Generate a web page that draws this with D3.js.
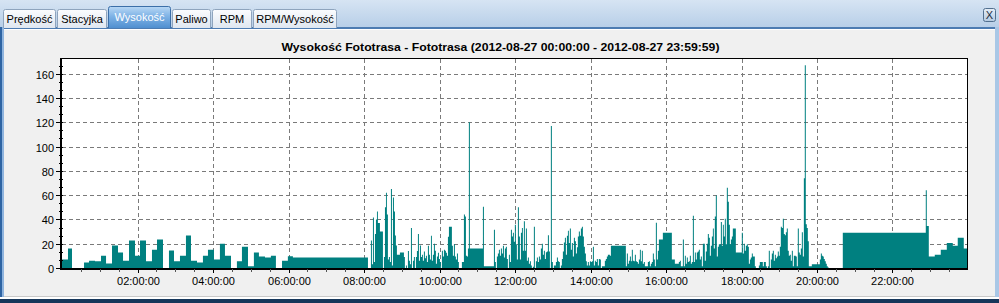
<!DOCTYPE html>
<html><head><meta charset="utf-8">
<script src="https://cdn.jsdelivr.net/npm/d3@7"></script>
<style>html,body{margin:0;padding:0;background:#f0f0f0;overflow:hidden}svg{display:block}</style>
</head><body><svg id="c" width="999" height="303"></svg>
<script>
const tabs = ["Prędkość","Stacyjka","Wysokość","Paliwo","RPM","RPM/Wysokość"];
const activeTab = "Wysokość";
const chartTitle = "Wysokość Fototrasa - Fototrasa (2012-08-27 00:00:00 - 2012-08-27 23:59:59)";
// minutes since midnight (start of each step)
const times = [0,9.5,15.9,35,43,52.5,62,70,79.5,89,97,106.5,116,124,133.5,143,151,160.5,170,178,187.5,197,205,214.6,224,232,241.6,251,259,268.6,278,286,295.6,305,313,322.6,332,340,349.7,359,367,486.3,
491.0,492.6,494.2,495.8,497.4,499.0,500.6,502.1,505.3,510.1,511.7,513.3,514.9,516.4,518.0,519.6,521.2,522.8,524.4,526.0,527.6,529.2,530.7,532.3,537.1,543.5,545.0,546.6,548.2,549.8,551.4,553.0,554.6,556.2,557.8,559.3,560.9,562.5,564.1,565.7,567.3,568.9,570.5,572.1,573.6,575.2,576.8,578.4,580.0,581.6,583.2,584.8,586.4,587.9,589.5,591.1,592.7,594.3,595.9,597.5,599.1,600.7,602.2,603.8,605.4,607.0,608.6,610.2,611.8,613.4,615.0,619.7,621.3,622.9,624.5,626.1,627.7,629.3,630.8,635.6,638.8,640.4,642.0,643.6,645.2,646.7,648.3,669.0,670.6,686.5,688.1,689.6,691.2,692.8,694.4,696.0,697.6,699.2,700.8,702.4,703.9,705.5,707.1,708.7,710.3,711.9,713.5,715.1,716.7,718.2,719.8,721.4,723.0,724.6,726.2,727.8,729.4,731.0,732.5,734.1,735.7,737.3,738.9,740.5,742.1,743.7,745.3,746.8,748.4,750.0,751.6,753.2,754.8,756.4,758.0,759.6,761.1,762.7,764.3,765.9,767.5,769.1,770.7,772.3,773.9,775.5,777.0,778.6,780.2,781.8,785.0,786.6,788.2,789.8,791.3,792.9,794.5,796.1,797.7,799.3,800.9,802.5,804.1,805.6,807.2,808.8,810.4,812.0,813.6,815.2,816.8,818.4,819.9,821.5,823.1,824.7,826.3,827.9,829.5,831.1,832.7,834.2,835.8,837.4,839.0,840.6,842.2,843.8,845.4,847.0,848.5,850.1,851.7,853.3,854.9,856.5,858.1,862.8,864.4,866.0,867.6,870.8,872.4,896.2,897.8,899.4,901.0,902.6,904.2,905.7,907.3,908.9,910.5,912.1,913.7,915.3,916.9,918.5,920.0,921.6,923.2,924.8,926.4,931.2,932.8,934.4,935.9,937.5,939.1,940.7,942.3,943.9,945.5,947.1,948.7,955.0,969.3,974.1,980.4,982.0,983.6,986.8,988.4,990.0,991.5,993.1,994.7,996.3,997.9,999.5,1001.1,1002.7,1004.3,1005.9,1007.4,1009.0,1010.6,1012.2,1013.8,1015.4,1017.0,1018.6,1021.7,1023.3,1024.9,1026.5,1028.1,1029.7,1031.3,1032.9,1034.5,1036.0,1037.6,1039.2,1040.8,1042.4,1044.0,1047.2,1048.8,1050.4,1051.9,1053.5,1055.1,1056.7,1058.3,1059.9,1061.5,1063.1,1064.7,1066.2,1071.0,1080.5,1082.1,1083.7,1085.3,1086.9,1088.5,1090.1,1091.7,1093.3,1094.8,1096.4,1098.0,1101.2,1102.8,1107.6,1109.1,1113.9,1115.5,1118.7,1120.3,1121.9,1123.4,1125.0,1126.6,1128.2,1129.8,1131.4,1133.0,1134.6,1136.2,1137.7,1139.3,1140.9,1142.5,1144.1,1145.7,1147.3,1148.9,1150.5,1152.0,1153.6,1155.2,1156.8,1158.4,1160.0,1161.6,1163.2,1166.3,1167.9,1169.5,1171.1,1172.7,1174.3,1175.9,1177.5,1179.1,1180.6,1182.2,1183.8,1185.4,1187.0,1191.8,1204.5,1206.1,1207.7,1209.3,1210.8,1212.4,1214.0,1215.6,1217.2,1218.8,1241.0,1372.9,1374.5,1377.7,1387.2,1396.7,1406.3,1415.8,1423.7,1433.3,1440];
// altitude values (m) for each step
const values = [7,16,0,4.5,6,5.5,10,3.7,18.5,12.7,6,22.6,10,22.6,5.5,15,23.4,0,14.4,5.5,10,26.7,6,4.5,10,15,7,20,10,0,5.5,17.6,1.5,12.7,9.5,8.6,10,0,6,9.7,8.6,0,
22.6,3,41.5,5,28,40,46.5,37,30,0,9,50,62,44,7,9,5,65,2,58,46.5,26.7,18.5,11,12.7,9,0,2,0,14,6,3,33,0,6,9,0,9,14,28,6,18.5,9,11,6,13.5,8,10,5,18.4,11,7,26.6,6,11,20,14.3,3.6,9.5,12.5,7.5,5,0,14.3,9.5,15,14.3,12.5,10,25.8,34,18.4,10,19.5,9.5,7,12,5,0,5,44,42.5,10,9.5,16,120,16,50.5,1.5,31.6,5,0,9.5,12,15,10,16,12,18.4,8.6,16,17.6,7.5,0,11,5,31.6,26,29,21.6,35.7,19.5,7,50,26,7,29,33,14.3,38.5,14.3,32.5,6,8.6,3.6,5.5,2,0,1,34,0,5.5,8.6,5,9.5,7,16,20,11,14.3,7.5,13,13.5,27,13.5,0,117,5,0,2,5,8.6,5.5,5,0,2,7.5,13.5,21,25,11,26.6,30.7,20.5,32.5,15,20.5,9.5,25,22,12,17,26,30,26.6,32.5,34,26,17.6,12,5.5,2,5,2,5.5,5,5.5,17.6,2,6,5,7.5,2,7.5,7,0,1.5,6,7.5,9.5,11,10,18.4,1.5,12,3.6,6,9.5,5.5,15,6,5.5,11,5.5,5,3.6,7,15,5.5,14.3,3.6,5,1.5,5,5.5,1.5,3.6,5,12,7,1.5,37.3,7,14.3,23.4,29,7,3.6,5,6,1.5,23.4,1.5,10,3.6,8.6,5,5.5,10,3.6,5,43,5,12.7,7,12.7,13.5,15,7,9.5,1.5,20,6,13.5,20,28,25,10,18.4,26,32.5,16,42.5,59.7,9.5,17.6,19.5,37.8,18.4,35.7,26,40.6,19.5,66,54.6,35.7,19.5,23.4,26,32.5,12.7,29,12,20,14.3,18.4,19.5,17.6,3.6,7,8.6,12,9.5,1.5,0,2,5,1.5,5,1.5,0,1.5,14.3,0,7,12,14.3,6,11,8,9.5,13.5,10,17.6,34,33,40.6,28,27,29.5,32.5,14.3,10,11,6,14.3,1.5,10,9.5,1.5,32.5,12.7,11,16,29.5,9.5,74,167,36,33,22,1.5,3,7,12,10,9.5,7.5,5.5,3.6,1.5,0.5,0,29,64,34.5,9.5,11,15,20.5,18.4,24.9,16,16];
const xTickMinutes = [120,240,360,480,600,720,840,960,1080,1200,1320];
const xTickLabels = ["02:00:00","04:00:00","06:00:00","08:00:00","10:00:00","12:00:00","14:00:00","16:00:00","18:00:00","20:00:00","22:00:00"];
const yTicks = [0,20,40,60,80,100,120,140,160];

const FONT = "'Liberation Sans', Arial, sans-serif";
const svg = d3.select("#c");
const defs = svg.append("defs");
function grad(id, stops){
  const g = defs.append("linearGradient").attr("id",id).attr("x1",0).attr("y1",0).attr("x2",0).attr("y2",1);
  stops.forEach(s=>g.append("stop").attr("offset",s[0]).attr("stop-color",s[1]));
}
grad("band",[[0,"#d6e4f3"],[1,"#b8cfe8"]]);
grad("tab",[[0,"#fbfcfe"],[1,"#dfe7f0"]]);
grad("tabA",[[0,"#b9d8f5"],[0.45,"#7fb3e6"],[1,"#4f8fd0"]]);
grad("btn",[[0,"#e6eef7"],[1,"#b3c9e0"]]);

// window frame
svg.append("rect").attr("width",999).attr("height",303).attr("fill","#f0f0f0");
svg.append("rect").attr("x",0).attr("y",0).attr("width",999).attr("height",27).attr("fill","url(#band)");
svg.append("rect").attr("x",0).attr("y",27).attr("width",999).attr("height",2).attr("fill","#4d7cb2");
svg.append("rect").attr("x",0).attr("y",29).attr("width",999).attr("height",1).attr("fill","#ffffff");
svg.append("rect").attr("x",0).attr("y",27).attr("width",2).attr("height",276).attr("fill","#2f64a3");
svg.append("rect").attr("x",2).attr("y",27).attr("width",2).attr("height",276).attr("fill","#8fb4de");
svg.append("rect").attr("x",995).attr("y",27).attr("width",4).attr("height",276).attr("fill","#a9c7e6");
svg.append("rect").attr("x",4).attr("y",296).attr("width",991).attr("height",1).attr("fill","#c9c9c9");
svg.append("rect").attr("x",0).attr("y",297).attr("width",999).attr("height",2).attr("fill","#ffffff");
svg.append("rect").attr("x",0).attr("y",299).attr("width",999).attr("height",4).attr("fill","#16365a");

// tabs
const tabX = [3,57,108,172,212,253], tabW = [53,50,63,39,40,84];
tabs.forEach((t,i)=>{
  const act = t===activeTab;
  const y0 = act?6:9;
  svg.append("path")
    .attr("d",`M${tabX[i]+0.5},28 V${y0+2.5} Q${tabX[i]+0.5},${y0+0.5} ${tabX[i]+2.5},${y0+0.5} H${tabX[i]+tabW[i]-2.5} Q${tabX[i]+tabW[i]-0.5},${y0+0.5} ${tabX[i]+tabW[i]-0.5},${y0+2.5} V28`)
    .attr("fill",act?"url(#tabA)":"url(#tab)")
    .attr("stroke",act?"#3c6fa8":"#8ea4bd").attr("stroke-width",1);
  svg.append("text").attr("x",tabX[i]+tabW[i]/2).attr("y",act?21:22.5)
    .attr("text-anchor","middle").attr("font-family",FONT).attr("font-size","11px")
    .attr("fill",act?"#ffffff":"#000000").text(t);
});
// close button
svg.append("rect").attr("x",983.5).attr("y",8.5).attr("width",12).attr("height",13).attr("rx",2)
  .attr("fill","url(#btn)").attr("stroke","#52708f");
svg.append("text").attr("x",989.5).attr("y",19).attr("text-anchor","middle")
  .attr("font-family",FONT).attr("font-size","11px").attr("fill","#1b2b3c").text("X");

// title
svg.append("text").attr("x",500.5).attr("y",50.5).attr("text-anchor","middle")
  .attr("font-family",FONT).attr("font-weight","bold").attr("font-size","11px").attr("fill","#000")
  .attr("textLength",438).attr("lengthAdjust","spacingAndGlyphs").text(chartTitle);

// scales
const x = d3.scaleLinear().domain([0,1440]).range([62,968]);
const y = d3.scaleLinear().domain([0,172.35]).range([268,58.7]);

svg.append("rect").attr("x",61).attr("y",58.7).attr("width",907).attr("height",210).attr("fill","#ffffff");

// grid
const grid = svg.append("g").attr("stroke","#7a7a7a").attr("stroke-width",1).attr("stroke-dasharray","4,3").attr("fill","none");
yTicks.filter(v=>v>0).forEach(v=>{
  const yy = Math.round(y(v))+0.5;
  grid.append("line").attr("x1",62).attr("x2",967).attr("y1",yy).attr("y2",yy);
});
xTickMinutes.forEach(m=>{
  const xx = Math.round(x(m))+0.5;
  grid.append("line").attr("x1",xx).attr("x2",xx).attr("y1",59).attr("y2",268);
});

// data
const data = times.map((t,i)=>({t, v: values[i]}));
const area = d3.area().curve(d3.curveStepAfter)
  .x(d=>x(d.t)).y0(y(0)).y1(d=>y(d.v));
svg.append("path").datum(data).attr("d",area).attr("fill","#008080");

// frame
svg.append("line").attr("x1",61).attr("x2",968).attr("y1",58.5).attr("y2",58.5).attr("stroke","#000");
svg.append("line").attr("x1",967.5).attr("x2",967.5).attr("y1",58).attr("y2",270).attr("stroke","#000");
svg.append("line").attr("x1",61).attr("x2",61).attr("y1",58).attr("y2",270).attr("stroke","#000").attr("stroke-width",2);
svg.append("line").attr("x1",60).attr("x2",968).attr("y1",269).attr("y2",269).attr("stroke","#000").attr("stroke-width",2);

// y axis
const ya = svg.append("g").attr("font-family",FONT).attr("font-size","11px");
d3.range(0,172,20/3).forEach(v=>{
  const yy = Math.round(y(v))+0.5;
  ya.append("line").attr("x1",59).attr("x2",63).attr("y1",yy).attr("y2",yy).attr("stroke","#000");
});
yTicks.forEach(v=>{
  const yy = Math.round(y(v))+0.5;
  ya.append("line").attr("x1",56).attr("x2",61).attr("y1",yy).attr("y2",yy).attr("stroke","#000");
  ya.append("text").attr("x",54).attr("y",yy+4).attr("text-anchor","end").attr("fill","#000").text(v);
});
// x axis
const xa = svg.append("g").attr("font-family",FONT).attr("font-size","11px");
d3.range(30,1440,30).forEach(m=>{
  const xx = Math.round(x(m))+0.5;
  xa.append("line").attr("x1",xx).attr("x2",xx).attr("y1",269).attr("y2",272).attr("stroke","#555");
});
xTickMinutes.forEach((m,i)=>{
  const xx = Math.round(x(m))+0.5;
  xa.append("line").attr("x1",xx).attr("x2",xx).attr("y1",269).attr("y2",273).attr("stroke","#000");
  xa.append("text").attr("x",xx).attr("y",284.5).attr("text-anchor","middle").attr("fill","#000").text(xTickLabels[i]);
});
</script></body></html>
